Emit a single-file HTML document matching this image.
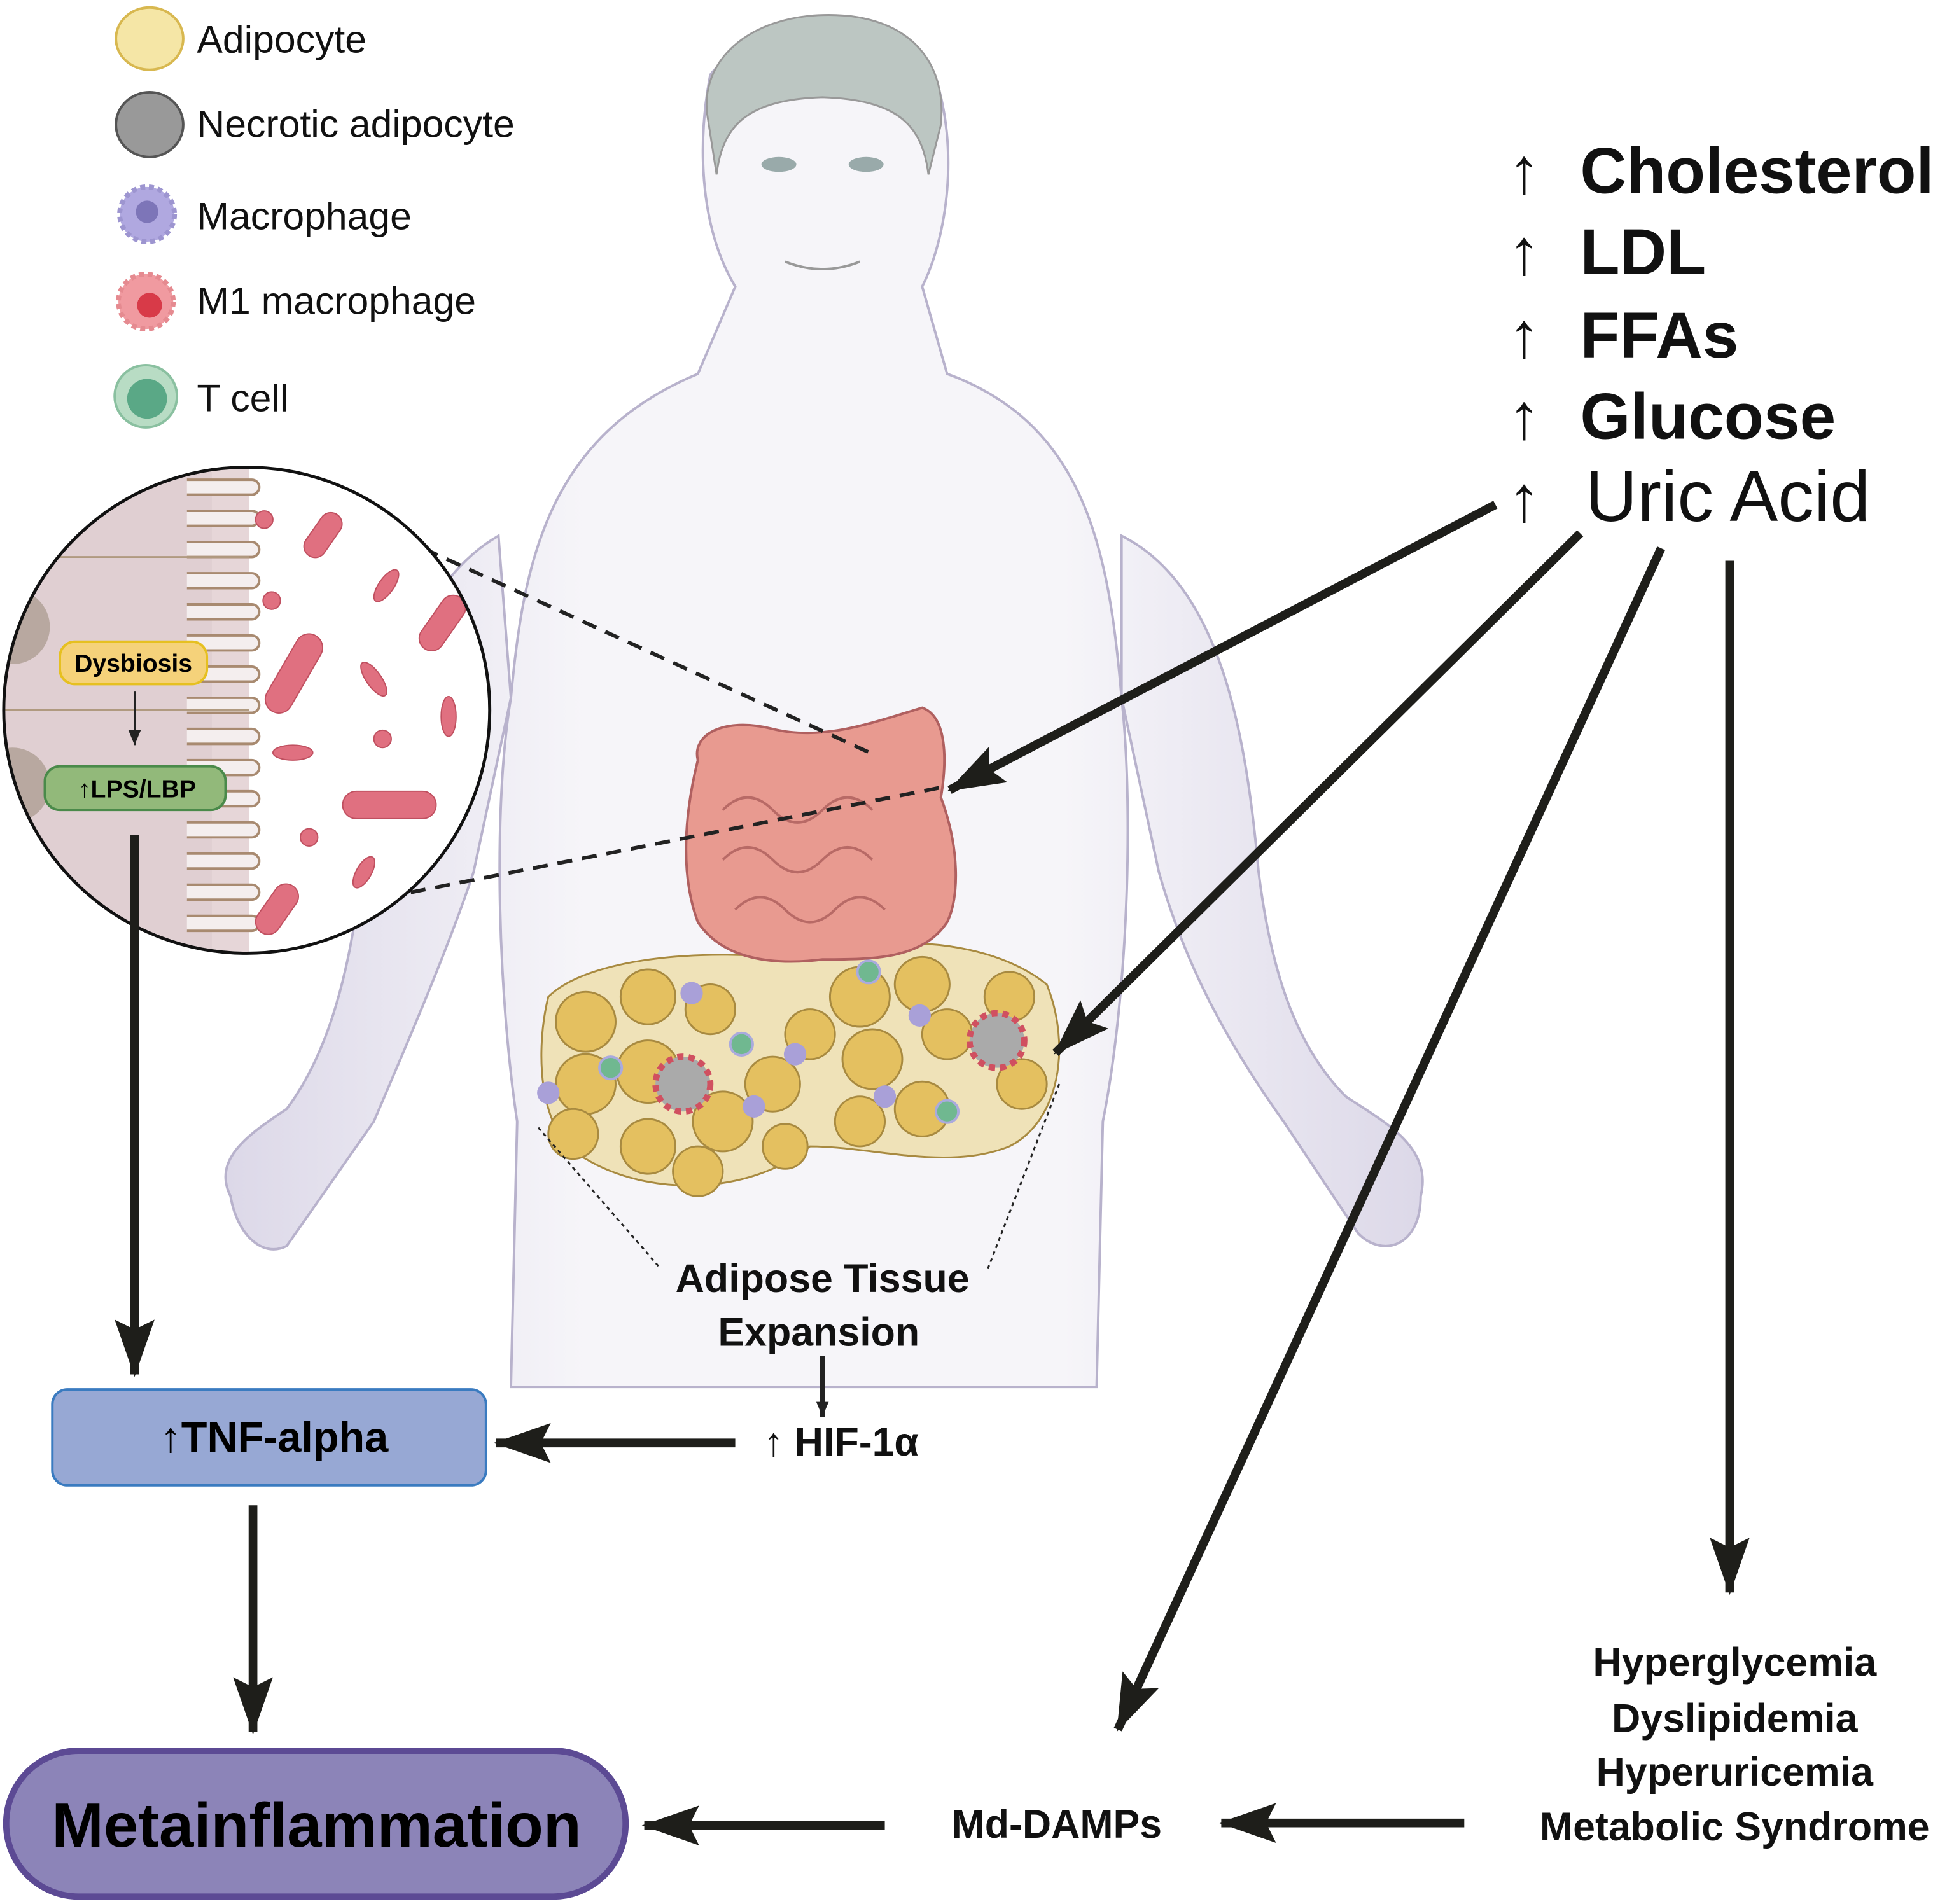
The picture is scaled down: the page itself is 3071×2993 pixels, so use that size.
<!DOCTYPE html>
<html><head><meta charset="utf-8"><style>
html,body{margin:0;padding:0;background:#fff}
svg{display:block}
text{font-family:"Liberation Sans",sans-serif}
</style></head><body>
<svg width="3071" height="2993" viewBox="0 0 1568 1528" preserveAspectRatio="none" xmlns="http://www.w3.org/2000/svg">
<defs>
<marker id="ah" markerUnits="userSpaceOnUse" markerWidth="50" markerHeight="40" refX="44" refY="16" orient="auto">
<path d="M0,0 L46,16 L0,32 L8,16 Z" fill="#1e1e1a"/>
</marker>
<marker id="ahs" markerUnits="userSpaceOnUse" markerWidth="14" markerHeight="12" refX="12" refY="5" orient="auto">
<path d="M0,0 L12,5 L0,10 Z" fill="#222"/>
</marker>
<clipPath id="cc"><circle cx="198" cy="570" r="195"/></clipPath>
<linearGradient id="bg" x1="0" x2="1" y1="0" y2="0">
<stop offset="0" stop-color="#dcd8e8"/><stop offset="0.3" stop-color="#f6f5f9"/><stop offset="0.7" stop-color="#f6f5f9"/><stop offset="1" stop-color="#dcd8e8"/>
</linearGradient>
</defs>
<g fill="url(#bg)" stroke="#b8b2cc" stroke-width="2">
<path d="M410,1113 L415,900 C400,800 395,650 410,560 L400,430 C330,470 300,580 290,700 C280,790 260,850 230,890 C200,910 170,930 185,960 C190,990 210,1010 230,1000 L300,900 C330,830 360,760 380,700 L410,560 C420,450 440,350 560,300 L590,230 C560,180 560,110 570,60 C600,20 720,10 750,60 C770,120 760,190 740,230 L760,300 C870,340 890,440 900,560 L930,700 C950,770 980,830 1030,900 L1090,990 C1110,1010 1140,1000 1140,960 C1150,920 1110,900 1080,880 C1040,840 1020,780 1010,700 C1000,590 980,470 900,430 L900,560 C910,650 905,800 885,900 L880,1113 Z"/>
</g>
<path d="M568,95 C560,50 600,12 665,12 C730,12 760,50 755,100 L745,140 C740,100 720,80 660,78 C600,80 580,100 575,140 Z" fill="#bcc6c2" stroke="#999" stroke-width="1.5"/>
<ellipse cx="625" cy="132" rx="14" ry="6" fill="#9aa"/><ellipse cx="695" cy="132" rx="14" ry="6" fill="#9aa"/>
<path d="M630,210 Q660,222 690,210" stroke="#999" fill="none" stroke-width="2"/>
<g stroke="#a88a40" stroke-width="1.5">
<path d="M440,800 C470,770 560,760 640,770 C700,750 790,750 840,790 C860,840 850,900 810,920 C760,940 700,920 650,920 C600,960 520,960 470,930 C430,910 430,840 440,800 Z" fill="#efe2b8"/>
<g fill="#e4c060">
<circle cx="470" cy="820" r="24"/><circle cx="520" cy="800" r="22"/><circle cx="570" cy="810" r="20"/><circle cx="470" cy="870" r="24"/><circle cx="520" cy="860" r="25"/><circle cx="580" cy="900" r="24"/><circle cx="520" cy="920" r="22"/><circle cx="460" cy="910" r="20"/><circle cx="620" cy="870" r="22"/><circle cx="650" cy="830" r="20"/><circle cx="690" cy="800" r="24"/><circle cx="740" cy="790" r="22"/><circle cx="700" cy="850" r="24"/><circle cx="760" cy="830" r="20"/><circle cx="740" cy="890" r="22"/><circle cx="690" cy="900" r="20"/><circle cx="810" cy="800" r="20"/><circle cx="820" cy="870" r="20"/><circle cx="560" cy="940" r="20"/><circle cx="630" cy="920" r="18"/></g>
</g>
<circle cx="548" cy="870" r="22" fill="#aaa" stroke="#d05060" stroke-width="5" stroke-dasharray="5 4"/>
<circle cx="800" cy="835" r="22" fill="#aaa" stroke="#d05060" stroke-width="5" stroke-dasharray="5 4"/>
<g fill="#a9a0d8"><circle cx="555" cy="797" r="9"/><circle cx="638" cy="846" r="9"/><circle cx="605" cy="888" r="9"/><circle cx="440" cy="877" r="9"/><circle cx="738" cy="815" r="9"/><circle cx="710" cy="880" r="9"/></g>
<g fill="#70b890" stroke="#aad" stroke-width="2"><circle cx="490" cy="857" r="9"/><circle cx="595" cy="838" r="9"/><circle cx="697" cy="780" r="9"/><circle cx="760" cy="892" r="9"/></g>
<path d="M560,610 C555,590 580,575 620,585 C660,595 700,580 740,568 C760,575 760,610 755,640 C770,680 770,720 760,740 C740,770 700,770 660,770 C620,775 580,770 560,740 C545,700 550,650 560,610 Z" fill="#e89a90" stroke="#b06060" stroke-width="2"/>
<path d="M580,650 q20,-20 40,0 t40,0 t40,0 M580,690 q20,-20 40,0 t40,0 t40,0 M590,730 q20,-20 40,0 t40,0 t40,0" stroke="#b86a66" fill="none" stroke-width="2"/>
<path d="M322,432 L700,605 M310,720 L755,632" stroke="#222" stroke-width="3" stroke-dasharray="12 8"/>
<circle cx="198" cy="570" r="195" fill="#fff"/>
<g clip-path="url(#cc)">
<rect x="0" y="370" width="200" height="400" fill="#e6d6d8"/>
<rect x="0" y="370" width="170" height="400" fill="#e0cfd2"/>
<g stroke="#a88a70" stroke-width="2" fill="#f4eeee">
<path d="M150,385 h52 a6,6 0 0 1 0,12 h-52 M150,410 h52 a6,6 0 0 1 0,12 h-52 M150,435 h52 a6,6 0 0 1 0,12 h-52 M150,460 h52 a6,6 0 0 1 0,12 h-52 M150,485 h52 a6,6 0 0 1 0,12 h-52 M150,510 h52 a6,6 0 0 1 0,12 h-52 M150,535 h52 a6,6 0 0 1 0,12 h-52 M150,560 h52 a6,6 0 0 1 0,12 h-52 M150,585 h52 a6,6 0 0 1 0,12 h-52 M150,610 h52 a6,6 0 0 1 0,12 h-52 M150,635 h52 a6,6 0 0 1 0,12 h-52 M150,660 h52 a6,6 0 0 1 0,12 h-52 M150,685 h52 a6,6 0 0 1 0,12 h-52 M150,710 h52 a6,6 0 0 1 0,12 h-52 M150,735 h52 a6,6 0 0 1 0,12 h-52"/>
</g>
<line x1="0" y1="447" x2="200" y2="447" stroke="#b09a80" stroke-width="1.5"/>
<line x1="0" y1="570" x2="200" y2="570" stroke="#b09a80" stroke-width="1.5"/>
<circle cx="10" cy="503" r="30" fill="#b8a8a0"/><circle cx="10" cy="630" r="30" fill="#b8a8a0"/>
<g fill="#e07080" stroke="#c05060" stroke-width="1">
<rect x="240" y="420" width="40" height="18" rx="9" transform="rotate(-55 260 430)"/>
<rect x="200" y="530" width="70" height="22" rx="11" transform="rotate(-60 235 540)"/>
<rect x="330" y="490" width="50" height="20" rx="10" transform="rotate(-55 355 500)"/>
<rect x="275" y="635" width="75" height="22" rx="11"/>
<rect x="200" y="720" width="45" height="20" rx="10" transform="rotate(-55 222 730)"/>
<circle cx="212" cy="417" r="7"/><circle cx="218" cy="482" r="7"/><circle cx="307" cy="593" r="7"/><circle cx="248" cy="672" r="7"/>
<ellipse cx="310" cy="470" rx="6" ry="15" transform="rotate(35 310 470)"/><ellipse cx="300" cy="545" rx="6" ry="16" transform="rotate(-35 300 545)"/><ellipse cx="360" cy="575" rx="6" ry="16"/><ellipse cx="235" cy="604" rx="16" ry="6"/><ellipse cx="292" cy="700" rx="6" ry="14" transform="rotate(30 292 700)"/>
</g>
</g>
<circle cx="198" cy="570" r="195" fill="none" stroke="#111" stroke-width="2.5"/>
<rect x="48" y="515" width="118" height="34" rx="12" fill="#f5d27a" stroke="#e6c020" stroke-width="2"/>
<text x="107" y="539" font-size="20" font-weight="bold" text-anchor="middle">Dysbiosis</text>
<line x1="108" y1="555" x2="108" y2="598" stroke="#222" stroke-width="1.5" marker-end="url(#ahs)"/>
<rect x="36" y="615" width="145" height="35" rx="12" fill="#92b97a" stroke="#4a8a4a" stroke-width="2"/>
<text x="110" y="640" font-size="20" font-weight="bold" text-anchor="middle">↑LPS/LBP</text>
<ellipse cx="120" cy="31" rx="27" ry="25" fill="#f5e6a6" stroke="#d8b850" stroke-width="2"/>
<ellipse cx="120" cy="100" rx="27" ry="26" fill="#999" stroke="#555" stroke-width="2"/>
<circle cx="118" cy="172" r="22" fill="#b0a8e0" stroke="#9d95d0" stroke-dasharray="4 3" stroke-width="4"/><circle cx="118" cy="170" r="9" fill="#7d75b8"/>
<circle cx="117" cy="242" r="22" fill="#f09aa0" stroke="#e58a90" stroke-dasharray="4 3" stroke-width="4"/><circle cx="120" cy="245" r="10" fill="#d83a48"/>
<circle cx="117" cy="318" r="25" fill="#b8dcc4" stroke="#8ac0a0" stroke-width="2"/><circle cx="118" cy="320" r="16" fill="#5aa886"/>
<g font-size="31" fill="#111">
<text x="158" y="42">Adipocyte</text><text x="158" y="110">Necrotic adipocyte</text><text x="158" y="184">Macrophage</text><text x="158" y="252">M1 macrophage</text><text x="158" y="330">T cell</text>
</g>
<g font-size="52" font-weight="bold" fill="#111">
<text x="1210" y="155">↑</text><text x="1268" y="155" textLength="284" lengthAdjust="spacingAndGlyphs">Cholesterol</text>
<text x="1210" y="220">↑</text><text x="1268" y="220">LDL</text>
<text x="1210" y="287">↑</text><text x="1268" y="287">FFAs</text>
<text x="1210" y="352">↑</text><text x="1268" y="352">Glucose</text>
<text x="1210" y="418">↑</text>
</g>
<text x="1272" y="418" font-size="58" fill="#111">Uric Acid</text>
<g stroke="#1e1e1a" stroke-width="7" fill="none" marker-end="url(#ah)">
<line x1="1200" y1="405" x2="762" y2="634"/>
<line x1="1268" y1="428" x2="847" y2="845"/>
<line x1="1333" y1="440" x2="897" y2="1388"/>
<line x1="1388" y1="450" x2="1388" y2="1278"/>
<line x1="108" y1="670" x2="108" y2="1103"/>
<line x1="203" y1="1208" x2="203" y2="1390"/>
<line x1="590" y1="1158" x2="398" y2="1158"/>
<line x1="710" y1="1465" x2="517" y2="1465"/>
<line x1="1175" y1="1463" x2="980" y2="1463"/>
</g>
<line x1="660" y1="1088" x2="660" y2="1137" stroke="#222" stroke-width="4" marker-end="url(#ahs)"/>
<path d="M432,905 L530,1018 M850,870 L792,1020" stroke="#222" stroke-width="1.5" stroke-dasharray="3 3"/>
<g font-size="32" font-weight="bold" fill="#111" text-anchor="middle">
<text x="660" y="1037">Adipose Tissue</text><text x="657" y="1080">Expansion</text>
<text x="675" y="1168">↑ HIF-1α</text>
<text x="848" y="1475">Md-DAMPs</text>
<text x="1392" y="1345">Hyperglycemia</text><text x="1392" y="1390">Dyslipidemia</text><text x="1392" y="1433">Hyperuricemia</text><text x="1392" y="1477">Metabolic Syndrome</text>
</g>
<rect x="42" y="1115" width="348" height="77" rx="12" fill="#97a8d4" stroke="#3a7bc0" stroke-width="2"/>
<text x="220" y="1165" font-size="34" font-weight="bold" text-anchor="middle">↑TNF-alpha</text>
<rect x="5" y="1405" width="497" height="117" rx="58" fill="#8c84b8" stroke="#5c4a94" stroke-width="5"/>
<text x="254" y="1482" font-size="50" font-weight="bold" text-anchor="middle">Metainflammation</text>
</svg>
</body></html>
